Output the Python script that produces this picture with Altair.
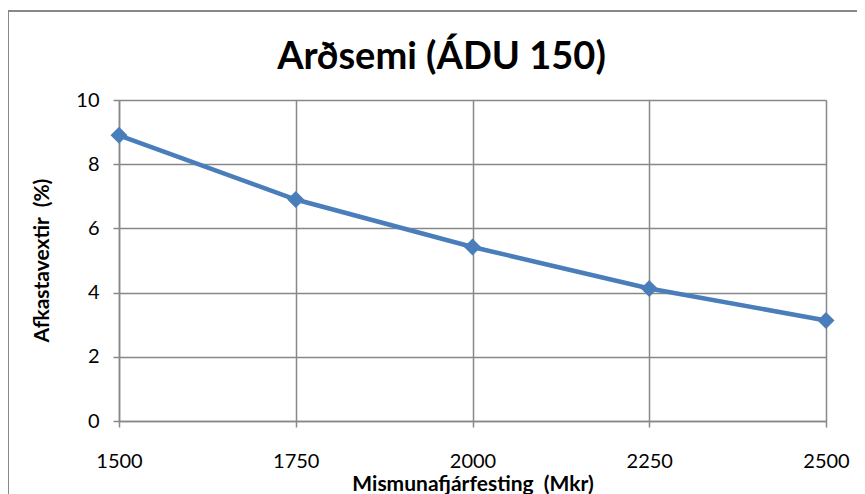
import altair as alt
import pandas as pd

investment = [1500, 1750, 2000, 2250, 2500]
returns = [8.9, 6.9, 5.42, 4.13, 3.13]
x_ticks = [1500, 1750, 2000, 2250, 2500]
y_ticks = [0, 2, 4, 6, 8, 10]

df = pd.DataFrame({"fjarfesting": investment, "afkast": returns})

FONT = "Lato"
GRID = "#888888"
BLUE = "#4A7EBB"

base = alt.Chart(df)

x_enc = alt.X(
    "fjarfesting:Q",
    scale=alt.Scale(domain=[1500, 2500], nice=False, zero=False),
    axis=alt.Axis(
        values=x_ticks, title="Mismunafjárfesting\u00a0\u00a0(Mkr)", format="d",
        grid=True, gridColor=GRID, gridWidth=1.5,
        domainColor=GRID, domainWidth=1.5,
        tickColor=GRID, tickSize=6, tickWidth=1.5,
        labelFont=FONT, labelFontSize=20, labelColor="black", labelPadding=24,
        labelFlush=False,
        titleFont=FONT, titleFontSize=21, titleFontWeight="bold", titleColor="black",
        titleBaseline="alphabetic", titleY=69,
    ),
)
y_enc = alt.Y(
    "afkast:Q",
    scale=alt.Scale(domain=[0, 10], nice=False),
    axis=alt.Axis(
        values=y_ticks, title="Afkastavextir\u00a0\u00a0(%)",
        grid=True, gridColor=GRID, gridWidth=1.5,
        domainColor=GRID, domainWidth=1.5,
        tickColor=GRID, tickSize=6, tickWidth=1.5,
        labelFont=FONT, labelFontSize=20, labelColor="black", labelPadding=14,
        labelFlush=False,
        titleFont=FONT, titleFontSize=21, titleFontWeight="bold", titleColor="black",
        titleAngle=270, titleBaseline="alphabetic", titleX=-71, titleY=160,
    ),
)

line = base.mark_line(color=BLUE, strokeWidth=4.5).encode(x=x_enc, y=y_enc)
points = base.mark_point(shape="diamond", filled=True, size=290, color=BLUE, opacity=1).encode(
    x="fjarfesting:Q", y="afkast:Q"
)
frame = base.mark_rect(fill=None, stroke=GRID, strokeWidth=1.5).encode(
    x=alt.value(-111), x2=alt.value(800), y=alt.value(-89), y2=alt.value(450)
)

chart = (
    alt.layer(frame, line, points)
    .properties(
        width=707,
        height=321,
        autosize=alt.AutoSizeParams(type="none"),
        padding={"left": 111, "top": 92, "right": 31, "bottom": 73},
        title=alt.TitleParams(
            "Arðsemi (ÁDU 150)", font=FONT, fontSize=38, fontWeight="bold",
            color="black", anchor="middle", dx=-31, baseline="alphabetic",
            offset=0, dy=97,
        ),
    )
    .configure_view(stroke=GRID, strokeWidth=1.5)
    .configure(background="white")
)

chart.save("out.html", embed_options={"renderer": "svg", "actions": False})
